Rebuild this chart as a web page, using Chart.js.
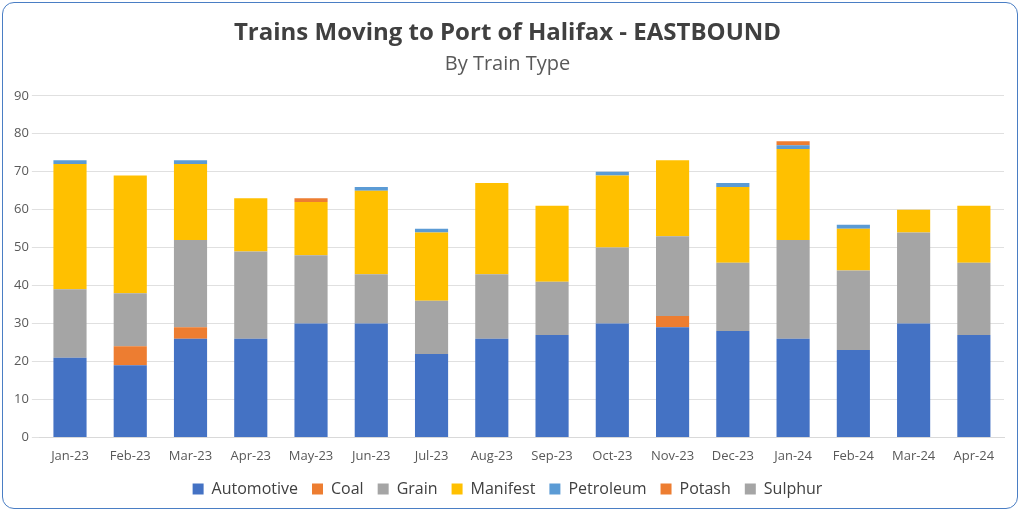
<!DOCTYPE html>
<html><head><meta charset="utf-8">
<script src="https://cdn.jsdelivr.net/npm/chart.js@4"></script>
<style>
html,body{margin:0;padding:0;background:#fff;}
#wrap{position:absolute;left:2px;top:2px;width:1016px;height:507px;border:1.5px solid #4a7ec4;border-radius:12px;box-sizing:border-box;}
canvas{position:absolute;left:0;top:0;}
</style></head><body>
<div id="wrap"><canvas id="c" width="1013" height="504"></canvas></div>
<script>
const categories=["Jan-23","Feb-23","Mar-23","Apr-23","May-23","Jun-23","Jul-23","Aug-23","Sep-23","Oct-23","Nov-23","Dec-23","Jan-24","Feb-24","Mar-24","Apr-24"];
const automotive=[21,19,26,26,30,30,22,26,27,30,29,28,26,23,30,27];
const coal=[0,5,3,0,0,0,0,0,0,0,3,0,0,0,0,0];
const grain=[18,14,23,23,18,13,14,17,14,20,21,18,26,21,24,19];
const manifest=[33,31,20,14,14,22,18,24,20,19,20,20,24,11,6,15];
const petroleum=[1,0,1,0,0,1,1,0,0,1,0,1,1,1,0,0];
const potash=[0,0,0,0,1,0,0,0,0,0,0,0,1,0,0,0];
const sulphur=[0,0,0,0,0,0,0,0,0,0,0,0,0,0,0,0];
const ds=(l,d,c)=>({label:l,data:d,backgroundColor:c,barPercentage:0.55,categoryPercentage:1});
new Chart(document.getElementById('c'),{type:'bar',
data:{labels:categories,datasets:[ds('Automotive',automotive,'#4472C4'),ds('Coal',coal,'#ED7D31'),ds('Grain',grain,'#A5A5A5'),ds('Manifest',manifest,'#FFC000'),ds('Petroleum',petroleum,'#5B9BD5'),ds('Potash',potash,'#ED7D31'),ds('Sulphur',sulphur,'#A5A5A5')]},
options:{responsive:false,animation:false,
layout:{padding:{left:8,right:12,top:16,bottom:0}},
plugins:{
title:{display:true,text:'Trains Moving to Port of Halifax - EASTBOUND',color:'#404040',font:{family:'Open Sans',size:24,weight:'bold'},padding:{top:0,bottom:4}},
subtitle:{display:true,text:'By Train Type',color:'#595959',font:{family:'Open Sans',size:20},padding:{bottom:20}},
legend:{position:'bottom',labels:{boxWidth:11,boxHeight:11,color:'#404040',font:{family:'Open Sans',size:16},padding:14}},
tooltip:{enabled:false}},
scales:{
x:{stacked:true,grid:{display:false},border:{color:'#d9d9d9'},ticks:{color:'#595959',font:{family:'Open Sans',size:13}}},
y:{stacked:true,min:0,max:90,ticks:{stepSize:10,color:'#595959',font:{family:'Open Sans',size:13}},grid:{color:'#e0e0e0'},border:{display:false}}}}});
</script></body></html>
